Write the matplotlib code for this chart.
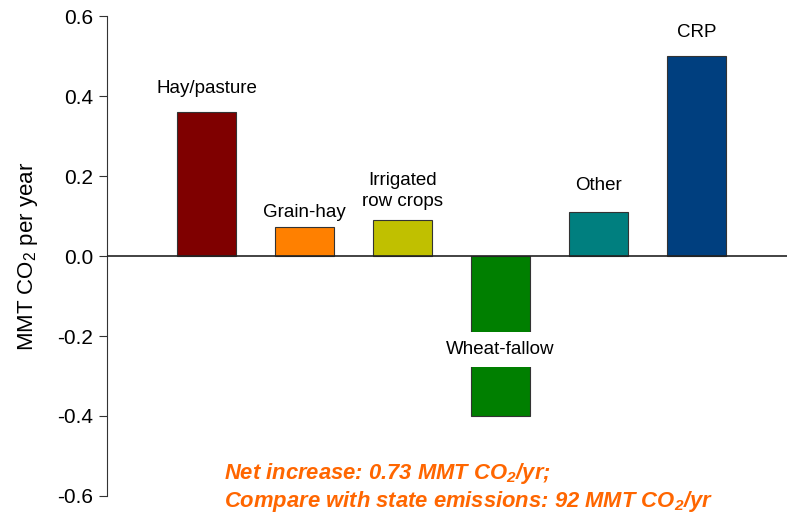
import numpy as np
import matplotlib
matplotlib.use("Agg")
import matplotlib.pyplot as plt

plt.rcParams['font.family'] = ['Liberation Sans', 'DejaVu Sans']
plt.rcParams['mathtext.fontset'] = 'custom'
plt.rcParams['mathtext.rm'] = 'Liberation Sans'
plt.rcParams['mathtext.bfit'] = 'Liberation Sans:bold:italic'

# land-use categories and annual carbon change (MMT CO2 / yr)
categories = ["Hay/pasture", "Grain-hay", "Irrigated\nrow crops", "Wheat-fallow", "Other", "CRP"]
values = [0.36, 0.073, 0.09, -0.40, 0.11, 0.50]
colors = ["#7f0000", "#ff8000", "#c0c000", "#007f00", "#007f7f", "#003f7f"]
yticks = [-0.6, -0.4, -0.2, 0.0, 0.2, 0.4, 0.6]

fig = plt.figure(figsize=(7.87, 5.16), dpi=100)
ax = fig.add_axes([0.136, 0.0388, 0.864, 0.930])

x = np.arange(len(categories))
bars = ax.bar(x, values, width=0.6, color=colors, edgecolor="#333333", linewidth=0.8, zorder=2)
ax.axhline(0, color="#222222", lw=1.2, zorder=3)

ax.set_xlim(-1.015, 5.925)
ax.set_ylim(-0.6, 0.6)
ax.set_yticks(yticks)
ax.set_yticklabels([f"{t:.1f}" for t in yticks], fontsize=15)
ax.set_xticks([])
for s in ["top", "right", "bottom"]:
    ax.spines[s].set_visible(False)
ax.spines["left"].set_color("#333333")
ax.tick_params(axis="y", direction="out", length=6, color="#333333", pad=4)
ax.set_ylabel("MMT CO$_2$ per year", fontsize=16, labelpad=12)

# bar labels above positive bars, offsets in points
offsets = [11, 4, 7, 0, 13, 11]
for xi, v, name, off in zip(x, values, categories, offsets):
    if v >= 0:
        ax.annotate(name, (xi, v), xytext=(0, off), textcoords="offset points",
                    ha="center", va="bottom", fontsize=13.5, linespacing=1.3)
    else:
        ax.text(xi, v * 0.585, name, ha="center", va="center", fontsize=13.5, zorder=4,
                bbox=dict(facecolor="white", edgecolor="none", pad=6.5))

net = sum(values)
note = (f"Net increase: {net:.2f} MMT CO$_{{\\mathbfit{{2}}}}$/yr;\n"
        "Compare with state emissions: 92 MMT CO$_{\\mathbfit{2}}$/yr")
fig.text(224 / 787, 1 - 507 / 516, note, color="#ff6600", fontsize=15.8,
         fontweight="bold", fontstyle="italic", ha="left", va="baseline",
         linespacing=1.15)

fig.savefig("out.png", dpi=100)
